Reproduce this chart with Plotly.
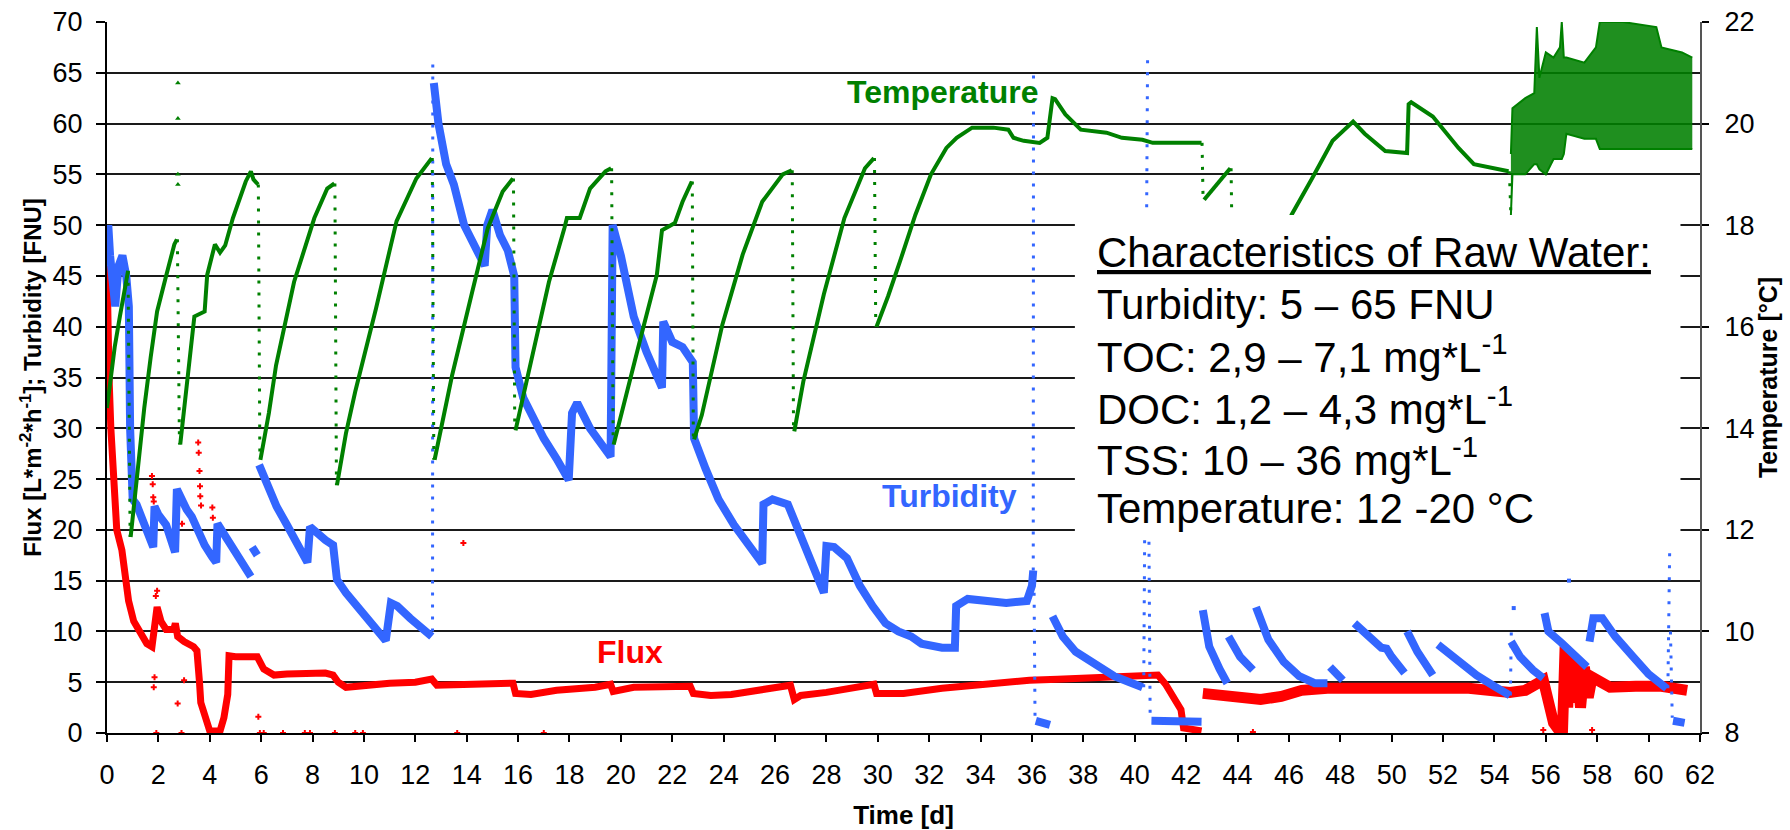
import plotly.graph_objects as go

# ---------------- data ----------------
# Temperature [°C] on the right axis; None separates measured segments
temp_day = [0.0, 0.1, 0.3, 0.5, 0.7, 0.82, None,
            0.92, 1.2, 1.45, 1.7, 1.95, 2.3, 2.62, 2.72, None,
            2.85, 3.1, 3.4, 3.8, 3.9, 4.2, 4.4, 4.6, 4.9, 5.4, 5.6, 5.7, 5.88, None,
            5.97, 6.3, 6.58, 7.28, 8.07, 8.57, 8.85, None,
            8.95, 9.3, 9.66, 10.47, 11.27, 12.04, 12.64, None,
            12.75, 13.1, 13.43, 14.22, 14.82, 15.4, 15.8, None,
            15.9, 16.1, 16.4, 17.2, 17.8, 17.9, 18.4, 18.8, 19.4, 19.62, None,
            19.72, 20.0, 20.8, 21.4, 21.6, 22.1, 22.4, 22.76, None,
            22.85, 23.15, 23.95, 24.74, 25.5, 26.3, 26.65, None,
            26.75, 27.1, 27.9, 28.7, 29.5, 29.85, None,
            29.95, 30.4, 30.86, 31.46, 32.07, 32.67, 33.07, 33.67, 34.5, 35.08, 35.28, 35.68,
            36.3, 36.6, 36.8, 36.9, 37.3, 37.9, 38.9, 39.5, 40.3, 40.7, 42.6, None,
            42.7, 43.72, None,
            46.0, 46.1, 46.9, 47.7, 48.5, 48.95, 49.75, 50.6, 50.66, 50.76, 51.6, 52.6, 53.2, 54.0, 54.55]
temp_c = [14.4, 14.8, 15.6, 16.2, 16.8, 17.1, None,
          11.86, 13.2, 14.4, 15.4, 16.3, 17.0, 17.62, 17.72, None,
          13.68, 14.8, 16.2, 16.3, 17.02, 17.62, 17.46, 17.6, 18.14, 18.86, 19.06, 18.9, 18.8, None,
          13.38, 14.3, 15.24, 16.88, 18.14, 18.72, 18.82, None,
          12.88, 13.9, 14.72, 16.36, 18.08, 18.92, 19.32, None,
          13.38, 14.2, 15.04, 16.7, 17.94, 18.66, 18.92, None,
          13.96, 14.4, 15.04, 16.88, 17.94, 18.14, 18.14, 18.72, 19.06, 19.12, None,
          13.68, 14.26, 15.84, 17.02, 17.9, 18.04, 18.46, 18.86, None,
          13.78, 14.26, 16.04, 17.42, 18.46, 19.0, 19.08, None,
          13.94, 14.92, 16.64, 18.14, 19.12, 19.32, None,
          16.0, 16.6, 17.28, 18.2, 19.0, 19.52, 19.72, 19.92, 19.92, 19.88, 19.72, 19.66,
          19.62, 19.72, 20.5, 20.48, 20.18, 19.88, 19.82, 19.72, 19.68, 19.62, 19.62, None,
          18.5, 19.12, None,
          17.8, 18.2, 18.92, 19.66, 20.04, 19.8, 19.46, 19.42, 20.38, 20.42, 20.14, 19.52, 19.2, 19.12, 19.06]

# sparse (dotted) cooling drops of the temperature record
temp_drop_day = [0.82, 0.9, None, 2.74, 2.82, None, 5.89, 5.95, None, 8.87, 8.93, None,
                 12.66, 12.72, None, 15.82, 15.87, None, 19.64, 19.7, None, 22.78, 22.82, None,
                 26.67, 26.72, None, 29.87, 29.92, None, 42.62, 42.66, None, 43.75, 43.8, None,
                 54.58, 54.64]
temp_drop_c = [17.1, 11.86, None, 17.72, 13.68, None, 18.8, 13.38, None, 18.82, 12.88, None,
               19.32, 13.38, None, 18.92, 13.96, None, 19.12, 13.68, None, 18.86, 13.78, None,
               19.08, 13.94, None, 19.32, 16.0, None, 19.62, 18.5, None, 19.12, 17.2, None,
               19.06, 18.2]

# scattered end of the temperature record: lower / upper envelope
temp_band_day = [54.64, 54.7, 55.2, 55.55, 55.65, 55.75, 56.0, 56.3, 56.55, 56.62, 56.7, 56.8,
                 57.5, 57.95, 58.1, 59.0, 60.3, 60.5, 61.3, 61.7]
temp_band_lo = [18.2, 19.0, 19.0, 19.2, 19.2, 19.1, 19.0, 19.3, 19.3, 19.3, 19.4, 19.8,
                19.7, 19.7, 19.5, 19.5, 19.5, 19.5, 19.5, 19.5]
temp_band_hi = [19.4, 20.3, 20.5, 20.6, 21.9, 20.9, 21.4, 21.3, 21.5, 22.0, 21.3, 21.3,
                21.2, 21.5, 22.0, 22.0, 21.9, 21.5, 21.4, 21.3]

temp_out_day = [2.76, 2.76, 2.76, 2.76]
temp_out_c = [20.8, 20.1, 19.0, 18.8]

# Turbidity [FNU]
turb_day = [0.0, 0.05, 0.12, 0.25, 0.32, 0.45, 0.6, 0.75, 0.85, 0.9, 0.95, 1.0, 1.15, 1.3, 1.5, 1.75, 1.8,
            1.85, 2.0, 2.3, 2.55, 2.65, 2.72, 2.9, 3.1, 3.3, 3.5, 3.8, 4.1, 4.25, 4.3, 4.5, 4.8, 5.1,
            5.4, 5.6, None,
            5.65, 5.85, None,
            5.92, 6.2, 6.6, 7.0, 7.4, 7.8, 7.9, 8.2, 8.5, 8.8, 8.95, 9.3, 9.7, 10.2, 10.6, 10.85,
            11.05, 11.3, 11.8, 12.3, 12.64, None,
            12.72, 12.9, 13.2, 13.5, 13.9, 14.3, 14.7, 14.8, 15.0, 15.3, 15.6, 15.85, 15.9, 16.2,
            16.6, 17.0, 17.5, 17.97, 18.1, 18.3, 18.8, 19.2, 19.6, 19.68, 20.0, 20.5, 21.0, 21.6,
            21.65, 22.0, 22.4, 22.8, 22.85, 23.3, 23.8, 24.4, 25.0, 25.5, 25.55, 25.9, 26.5, 26.9,
            27.4, 27.9, 28.0, 28.3, 28.8, 29.3, 29.8, 30.3, 30.8, 31.3, 31.7, 32.5, 33.0, 33.05,
            33.5, 34.2, 35.0, 35.8, 36.0, 36.05, None,
            36.15, 36.7, None,
            36.8, 37.2, 37.7, 38.3, 38.7, 39.2, 39.8, 40.3, None,
            40.65, 42.6, None,
            42.65, 42.9, 43.3, 43.6, None,
            43.65, 44.1, 44.6, None,
            44.72, 45.2, 45.8, 46.4, 47.0, 47.5, None,
            47.6, 48.1, None,
            48.55, 49.0, 49.6, 49.8, 50.0, 50.5, None,
            50.6, 51.0, 51.6, None,
            51.8, 52.5, 53.3, 54.0, 54.6, None,
            54.65, 55.0, 55.5, 55.9, None,
            55.95, 56.1, 56.6, 57.1, 57.6, None,
            57.7, 57.85, 58.2, 58.7, 59.4, 60.0, 60.7, None,
            60.95, 61.4]
turb_fnu = [48, 50, 47, 43, 42, 46, 47, 45, 42, 30, 24, 23, 22.5, 21.5, 20, 18.8, 18.3,
            22.3, 21.5, 20.5, 18.5, 17.8, 24, 23, 22, 21.3, 20, 18.5, 17.3, 16.8, 20.6, 19.8, 18.5, 17.5,
            16.3, 15.4, None,
            18.3, 17.5, None,
            26.4, 24.5, 22.3, 20.5, 18.5, 16.8, 20.3, 19.6, 19, 18.5, 15.1, 13.8, 12.6, 11.3, 10, 9.1,
            12.8, 12.5, 11.3, 10.2, 9.5, None,
            64, 60, 56, 54, 50, 48, 46, 50, 51.5, 49, 47.5, 45, 36, 33,
            31, 29, 27, 24.9, 31.5, 32.5, 30, 28.5, 27.2, 50, 47, 41, 37.5, 34,
            40.5, 38.5, 38, 36.5, 29, 26, 23, 20.5, 18.5, 16.7, 22.5, 23, 22.5, 20,
            16.5, 13.8, 18.4, 18.3, 17.2, 14.5, 12.5, 10.8, 10, 9.5, 8.8, 8.4, 8.4, 12.5,
            13.2, 13.0, 12.8, 13.0, 14.5, 16, None,
            1.2, 0.8, None,
            11.5, 9.5, 8, 7, 6.3, 5.6, 5, 4.5, None,
            1.2, 1.1, None,
            12.1, 8.5, 6.3, 4.9, None,
            9.5, 7.5, 6.2, None,
            12.4, 9.2, 7, 5.6, 4.9, 4.9, None,
            6.5, 5.2, None,
            10.8, 9.8, 8.4, 8.3, 7.5, 5.9, None,
            10, 8, 5.7, None,
            8.7, 7.3, 5.7, 4.6, 3.7, None,
            9, 7.5, 6.2, 5.4, None,
            11.8, 10, 8.9, 7.8, 6.5, None,
            9, 11.3, 11.3, 9.5, 7.5, 5.8, 4.4, None,
            1.2, 1.0]

# sparse (dotted) turbidity spikes
turb_spike_day = [12.67, 12.68, None, 36.05, 36.06, None, 36.08, 36.12, None,
                  40.35, 40.5, None, 40.55, 40.6, None, 54.62, 54.66, None,
                  60.75, 60.82, None, 60.85, 60.92]
turb_spike_fnu = [10, 66.5, None, 16, 65, None, 15, 1.2, None,
                  4.5, 66.5, None, 20, 1.5, None, 3.7, 10.7, None,
                  4.4, 18, None, 10, 1.5]
turb_out_day = [56.9, 54.75]
turb_out_fnu = [15, 12.3]

# Flux [L*m-2*h-1]
flux_day = [0.0, 0.03, 0.08, 0.15, 0.25, 0.38, 0.58, 0.77, 0.84, 1.04, 1.3, 1.55, 1.75, 1.85, 1.95,
            2.1, 2.3, 2.6, 2.66, 2.75, 3.0, 3.37, 3.5, 3.6, 3.65, 3.8, 4.0, 4.4, 4.55, 4.7, 4.75,
            5.0, 5.5, 5.85, 6.1, 6.5, 7.0, 8.0, 8.5, 8.8, 9.0, 9.3, 9.66, 10.1, 11.0, 12.0, 12.64,
            12.84, 14.0, 15.0, 15.8, 15.9, 16.5, 17.5, 19.0, 19.6, 19.7, 20.5, 21.5, 22.7, 22.82,
            23.5, 24.3, 25.5, 26.6, 26.75, 27.0, 28.0, 29.0, 29.85, 29.95, 31.0, 32.5, 34.0, 35.9,
            37.0, 38.5, 40.5, 40.9, 41.2, 41.5, 41.8, 41.9, 42.6]
flux_v = [46, 40, 35, 30, 24, 20, 18, 15, 13, 11, 9.8, 8.8, 8.5, 10.5, 12.4,
          11, 10.2, 10.2, 10.8, 9.5, 9.0, 8.5, 8.1, 5, 3, 1.8, 0.2, 0.2, 1.5, 3.8, 7.6,
          7.5, 7.6, 7.5, 6.3, 5.7, 5.8, 5.8, 5.9, 5.7, 5.0, 4.5, 4.6, 4.8, 4.9, 5.0, 5.3,
          4.7, 4.8, 4.8, 4.9, 3.9, 3.8, 4.2, 4.5, 4.8, 4.1, 4.5, 4.6, 4.6, 3.9,
          3.7, 3.8, 4.3, 4.7, 3.3, 3.7, 4.0, 4.4, 4.8, 3.9, 3.9, 4.4, 4.8, 5.2,
          5.3, 5.5, 5.7, 5.7, 4.8, 3.5, 2.3, 0.5, 0.2]
# noisier second part of the flux record
flux2_day = [42.65, 43.5, 44.9, 45.7, 46.5, 47.5, 48.9, 50.5, 51.9, 53.0, 54.6, 55.2, 55.9,
             56.1, 56.3, 56.5, 56.65, 56.75, 56.85, 56.95, 57.05, 57.2, 57.35, 57.5, 57.65,
             57.8, 58.5, 59.5, 60.5, 61.5]
flux2_v = [3.9, 3.7, 3.3, 3.6, 4.2, 4.4, 4.4, 4.6, 4.6, 4.4, 4.0, 4.2, 5.2,
           3.0, 1.0, 0.3, 0.3, 8.5, 2.5, 8.0, 3.0, 7.0, 2.5, 6.5, 3.5,
           5.5, 4.5, 4.6, 4.6, 4.2]
flux_out_day = [1.75, 1.78, 1.8, 1.82, 1.82, 1.85, 1.9, 1.95, 2.75, 2.92, 3.0, 3.55, 3.57, 3.6,
                3.62, 3.63, 3.66, 4.1, 4.12, 5.89, 13.87,
                1.92, 2.9, 5.95, 6.1, 6.85, 7.7, 7.9, 8.87, 9.66, 9.96, 13.63, 17.0,
                44.6, 55.9, 57.8]
flux_out_v = [25.3, 24.5, 23.2, 22.8, 4.5, 5.5, 13.5, 14, 2.9, 20.6, 5.2, 28.6, 27.6, 25.8,
              24.3, 23.3, 22.4, 22.2, 21.2, 1.6, 18.7,
              0, 0, 0, 0, 0, 0, 0, 0, 0, 0, 0, 0,
              0.1, 0.3, 0.3]

# text box lines
box_lines = ["<u>Characteristics of Raw Water:</u>",
             "Turbidity: 5 \u2013 65 FNU",
             "TOC: 2,9 \u2013 7,1 mg*L<sup>-1</sup>",
             "DOC: 1,2 \u2013 4,3 mg*L<sup>-1</sup>",
             "TSS: 10 \u2013 36 mg*L<sup>-1</sup>",
             "Temperature: 12 -20 \u00b0C"]
box_line_y = [47.28, 42.23, 37.28, 32.19, 27.15, 22.06]

RED = "#FF0000"
BLUE = "#3366FF"
GREEN = "#008000"
FONT = "Liberation Sans, Arial, sans-serif"

fig = go.Figure()

# flux (bottom layer)
fig.add_trace(go.Scatter(x=flux_day, y=flux_v, mode="lines",
                         line=dict(color=RED, width=7), hoverinfo="skip"))
fig.add_trace(go.Scatter(x=flux2_day, y=flux2_v, mode="lines",
                         line=dict(color=RED, width=11), hoverinfo="skip"))
fig.add_trace(go.Scatter(x=flux_out_day, y=flux_out_v, mode="markers",
                         marker=dict(symbol="cross", size=5, color=RED), hoverinfo="skip"))

# turbidity
fig.add_trace(go.Scatter(x=turb_day, y=turb_fnu, mode="lines",
                         line=dict(color=BLUE, width=8), hoverinfo="skip"))
fig.add_trace(go.Scatter(x=turb_spike_day, y=turb_spike_fnu, mode="lines",
                         line=dict(color=BLUE, width=3, dash="3px,9px"), hoverinfo="skip"))
fig.add_trace(go.Scatter(x=turb_out_day, y=turb_out_fnu, mode="markers",
                         marker=dict(symbol="square", size=4, color=BLUE), hoverinfo="skip"))

# temperature (top layer, right axis)
fig.add_trace(go.Scatter(x=temp_day, y=temp_c, mode="lines", yaxis="y2",
                         line=dict(color=GREEN, width=4), hoverinfo="skip"))
fig.add_trace(go.Scatter(x=temp_drop_day, y=temp_drop_c, mode="lines", yaxis="y2",
                         line=dict(color=GREEN, width=3, dash="3px,9px"), hoverinfo="skip"))
fig.add_trace(go.Scatter(x=temp_band_day, y=temp_band_lo, mode="lines", yaxis="y2",
                         line=dict(color=GREEN, width=2), hoverinfo="skip"))
fig.add_trace(go.Scatter(x=temp_band_day, y=temp_band_hi, mode="lines", yaxis="y2",
                         line=dict(color=GREEN, width=2), fill="tonexty",
                         fillcolor="rgba(0,128,0,0.88)", hoverinfo="skip"))
fig.add_trace(go.Scatter(x=temp_out_day, y=temp_out_c, mode="markers", yaxis="y2",
                         marker=dict(symbol="triangle-up", size=5, color=GREEN), hoverinfo="skip"))

# white text box covering the grid and the data
fig.add_shape(type="rect", xref="x", yref="y", x0=37.67, x1=61.24, y0=19.0, y1=51.0,
              fillcolor="white", line=dict(width=0), layer="above")

annotations = []
for txt, yy in zip(box_lines, box_line_y):
    annotations.append(dict(x=38.46, y=yy, xref="x", yref="y", text=txt, showarrow=False,
                            xanchor="left", yanchor="middle",
                            font=dict(family=FONT, size=42, color="black")))
annotations += [
    dict(x=32.5, y=63.1, xref="x", yref="y", text="<b>Temperature</b>", showarrow=False,
         font=dict(family=FONT, size=32, color=GREEN)),
    dict(x=32.8, y=23.3, xref="x", yref="y", text="<b>Turbidity</b>", showarrow=False,
         font=dict(family=FONT, size=32, color=BLUE)),
    dict(x=20.35, y=8.0, xref="x", yref="y", text="<b>Flux</b>", showarrow=False,
         font=dict(family=FONT, size=32, color=RED)),
]

fig.update_layout(
    width=1790, height=830,
    margin=dict(l=107, r=90, t=22, b=97),
    paper_bgcolor="white", plot_bgcolor="white",
    showlegend=False,
    font=dict(family=FONT, color="black"),
    annotations=annotations,
    xaxis=dict(range=[0, 62], tick0=0, dtick=2, ticks="outside", ticklen=7, tickwidth=2,
               tickcolor="black", showline=True, linecolor="black", linewidth=2,
               showgrid=False, zeroline=False, tickfont=dict(size=27), ticklabelstandoff=10,
               automargin=False,
               title=dict(text="<b>Time [d]</b>", font=dict(size=26), standoff=20)),
    yaxis=dict(range=[0, 70], tick0=0, dtick=5, ticks="outside", ticklen=9, tickwidth=2,
               tickcolor="black", showline=True, linecolor="black", linewidth=2,
               showgrid=True, gridcolor="#1a1a1a", gridwidth=2, zeroline=False,
               tickfont=dict(size=27), ticklabelstandoff=8, automargin=False,
               title=dict(text="<b>Flux [L*m<sup>-2</sup>*h<sup>-1</sup>]; Turbidity [FNU]</b>",
                          font=dict(size=24), standoff=4)),
    yaxis2=dict(range=[8, 22], tick0=8, dtick=2, overlaying="y", side="right",
                ticks="outside", ticklen=7, tickwidth=2, tickcolor="black",
                showline=True, linecolor="#555555", linewidth=2, showgrid=False, zeroline=False,
                tickfont=dict(size=27), ticklabelstandoff=10, automargin=False,
                title=dict(text="<b>Temperature [\u00b0C]</b>", font=dict(size=25), standoff=4)),
)

fig.write_html("out.html")
